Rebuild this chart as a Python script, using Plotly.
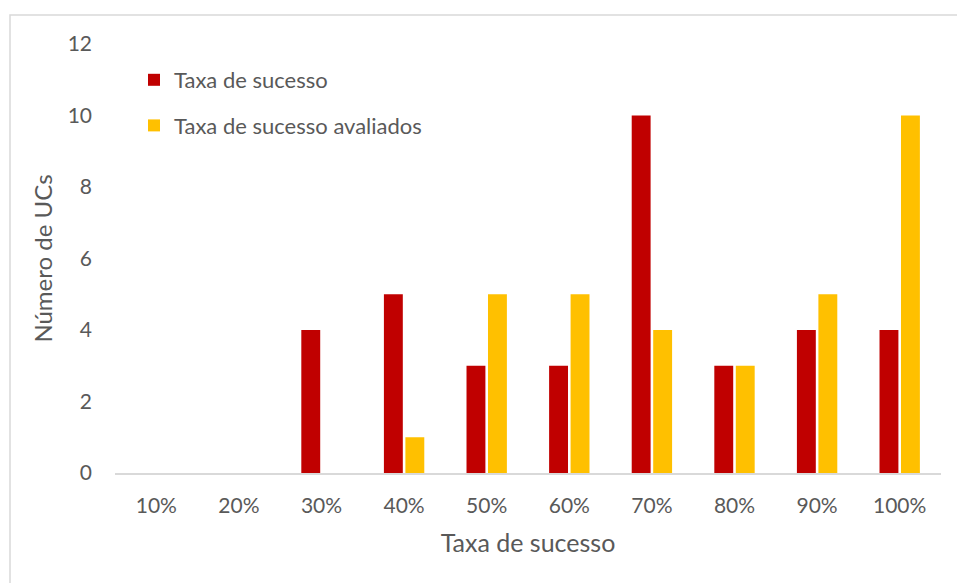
import plotly.graph_objects as go

categories = ["10%", "20%", "30%", "40%", "50%", "60%", "70%", "80%", "90%", "100%"]
taxa_sucesso = [0, 0, 4, 5, 3, 3, 10, 3, 4, 4]
taxa_sucesso_avaliados = [0, 0, 0, 1, 5, 5, 4, 3, 5, 10]

FONT = "Lato"
GREY = "#595959"

W, H = 957, 583
ML, MR, MT, MB = 115, 16, 44, 110
PW, PH = W - ML - MR, H - MT - MB


def px_x(p):
    return (p - ML) / PW


def px_y(p):
    return (H - MB - p) / PH


fig = go.Figure()
fig.add_trace(go.Bar(
    x=categories, y=taxa_sucesso, name="Taxa de sucesso",
    marker=dict(color="#C00000", line=dict(width=0)),
    legendgroup="a",
))
fig.add_trace(go.Bar(
    x=categories, y=taxa_sucesso_avaliados, name="Taxa de sucesso avaliados",
    marker=dict(color="#FFC000", line=dict(width=0)),
    legendgroup="b",
))

fig.update_layout(
    width=W, height=H,
    margin=dict(l=ML, r=MR, t=MT, b=MB, autoexpand=False),
    paper_bgcolor="white", plot_bgcolor="white",
    barmode="group", bargap=0.48, bargroupgap=0.12,
    font=dict(family=FONT, color=GREY, size=21),
    legend=dict(
        x=px_x(134), y=px_y(59), xanchor="left", yanchor="top",
        font=dict(family=FONT, color=GREY, size=22),
        tracegroupgap=14, bgcolor="rgba(0,0,0,0)",
    ),
    xaxis=dict(
        showline=True, linecolor="#D9D9D9", linewidth=2,
        showgrid=False, zeroline=False, ticks="",
        ticklabelstandoff=13,
        tickfont=dict(family=FONT, color=GREY, size=21),
        title=dict(text="Taxa de sucesso", standoff=18,
                   font=dict(family=FONT, color=GREY, size=25)),
        automargin=False,
    ),
    yaxis=dict(
        range=[0, 12], dtick=2, showline=False, showgrid=False,
        zeroline=False, ticks="", ticklabelstandoff=22,
        tickfont=dict(family=FONT, color=GREY, size=21),
        title=dict(text="Número de UCs", standoff=8,
                   font=dict(family=FONT, color=GREY, size=24)),
        automargin=False,
    ),
    shapes=[dict(
        type="rect", xref="paper", yref="paper",
        x0=px_x(10), x1=px_x(W + 20), y0=px_y(H + 20), y1=px_y(15),
        line=dict(color="#D9D9D9", width=1.5), fillcolor="rgba(0,0,0,0)",
        layer="below",
    )],
)

fig.write_html("out.html")
